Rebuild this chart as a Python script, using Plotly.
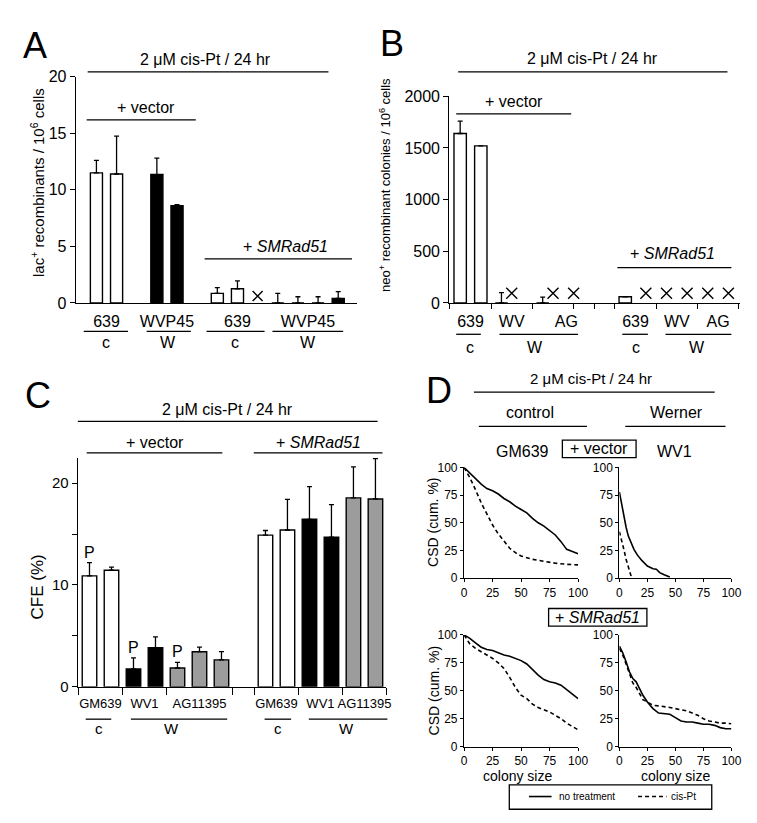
import plotly.graph_objects as go

FONT = "Liberation Sans, Arial, Helvetica, sans-serif"
W, H = 757, 823
FILLS = {"639": "white", "GM639": "white", "WVP45": "black", "WV1": "black",
         "WV": "black", "AG": "#9c9c9c", "AG11395": "#9c9c9c"}

# ---------- A: lac+ recombinants / 10^6 cells (None = not done -> x) ----------
a_slot = [0, 1, 3, 4, 6, 7, 8, 9, 10, 11, 12]
a_cell = ["639", "639", "WVP45", "WVP45", "639", "639", "639", "WVP45", "WVP45", "WVP45", "WVP45"]
a_value = [11.5, 11.4, 11.35, 8.6, 0.85, 1.25, None, 0, 0, 0, 0.4]
a_error = [1.1, 3.35, 1.45, 0.08, 0.5, 0.7, None, 0.85, 0.55, 0.55, 0.6]
a_labels = ["639", "WVP45", "639", "WVP45"]
a_label_pos = [0.5, 3.5, 7, 10.5]

# ---------- B: neo+ recombinant colonies / 10^6 cells ----------
b_slot = [0, 2, 4, 5, 8, 9, 11, 16, 18, 20, 22, 24, 26]
b_cell = ["639", "639", "WV", "WV", "AG", "AG", "AG", "639", "639", "WV", "WV", "AG", "AG"]
b_value = [1640, 1520, 0, None, 0, None, None, 60, None, None, None, None, None]
b_error = [120, 0, 100, None, 57, None, None, 0, None, None, None, None, None]
b_labels = ["639", "WV", "AG", "639", "WV", "AG"]
b_label_pos = [1, 5, 10.3, 17, 21, 25]
b_bounds = [-1, 3, 7, 11, 13, 15, 19, 23, 27]

# ---------- C: CFE (%) ----------
c_slot = [0, 1, 2, 3, 4, 5, 6, 8, 9, 10, 11, 12, 13]
c_cell = ["GM639", "GM639", "WV1", "WV1", "AG11395", "AG11395", "AG11395",
          "GM639", "GM639", "WV1", "WV1", "AG11395", "AG11395"]
c_value = [10.9, 11.45, 1.75, 3.85, 1.85, 3.45, 2.65, 14.9, 15.4, 16.45, 14.7, 18.55, 18.45]
c_error = [1.3, 0.3, 1.1, 1.05, 0.55, 0.45, 0.8, 0.45, 3.0, 3.2, 3.2, 3.05, 3.95]
c_parental = [0, 2, 4]
c_labels = ["GM639", "WV1", "AG11395", "GM639", "WV1", "AG11395"]
c_label_pos = [0.5, 2.5, 5, 8.5, 10.5, 12.5]
c_bounds = [-0.5, 1.5, 3.5, 6.5, 7.5, 9.5, 11.5, 13.5]

# ---------- D: colony size distributions ----------
d_ticks = [0, 25, 50, 75, 100]
d_vec_gm_x = [0, 5, 10, 15, 20, 25, 30, 35, 40, 45, 50, 55, 60, 65, 70, 75, 80, 85, 90, 95, 100]
d_vec_gm_none = [100, 95, 90, 85, 81, 79, 76, 72, 69, 65, 62, 59, 54, 50, 47, 43, 39, 33, 26, 24, 22]
d_vec_gm_cis_x = [0, 5, 10, 15, 20, 25, 30, 35, 40, 45, 50, 60, 70, 80, 90, 100]
d_vec_gm_cis = [100, 91, 80, 68, 58, 48, 40, 33, 27, 23, 20, 17, 15, 13.5, 12.5, 12]
d_vec_wv_x = [0, 2, 4, 6, 8, 10, 13, 16, 20, 25, 30, 33, 36, 40, 45]
d_vec_wv_none = [78, 66, 55, 46, 38, 33, 26, 21, 16, 11, 8.5, 8, 5, 3, 1]
d_vec_wv_cis_x = [0, 2, 4, 6, 8, 10, 11]
d_vec_wv_cis = [42, 35, 26, 17, 10, 3, 0]
d_rad_gm_x = [0, 5, 10, 15, 20, 25, 30, 35, 40, 45, 50, 55, 60, 65, 70, 75, 80, 85, 90, 95, 100]
d_rad_gm_none = [100, 97, 93, 89, 87, 86, 84, 82, 81, 79, 77, 74, 69, 64, 60, 58, 57, 55, 51, 47, 43]
d_rad_gm_cis = [100, 92, 88, 85, 82, 79, 75, 70, 62, 53, 46, 43, 38, 35, 33, 31, 28, 25, 21, 18, 15]
d_rad_wv_x = [0, 3, 6, 9, 12, 15, 18, 21, 25, 30, 35, 40, 45, 50, 55, 60, 65, 70, 75, 80, 85, 90, 95, 100]
d_rad_wv_none = [90, 84, 76, 67, 61, 58, 52, 46, 40, 34, 30, 29.5, 29, 26, 23, 22, 22, 21, 20, 20, 19, 17, 16, 16]
d_rad_wv_cis = [88, 82, 74, 66, 57, 53, 47, 42, 40, 37, 36.5, 36, 35, 34, 33, 32, 30, 28, 25, 23, 22, 21, 21, 20.5]


def xdom(x0, x1):
    return [x0 / W, x1 / W]


def ydom(top, bottom):
    return [1 - bottom / H, 1 - top / H]


def T(x, y, text, size, **kw):
    d = dict(x=x / W, y=1 - y / H, xref="paper", yref="paper", text=text, showarrow=False,
             font=dict(size=size, color="black", family=FONT), xanchor="center", yanchor="middle")
    d.update(kw)
    return d


def L(x0, x1, y, width=1.3, dash="solid"):
    return dict(type="line", xref="paper", yref="paper", x0=x0 / W, x1=x1 / W,
                y0=1 - y / H, y1=1 - y / H, line=dict(color="black", width=width, dash=dash))


def R(x0, y0, x1, y1):
    return dict(type="rect", xref="paper", yref="paper", x0=x0 / W, x1=x1 / W,
                y0=1 - y1 / H, y1=1 - y0 / H, line=dict(color="black", width=1.3))


fig = go.Figure()


def add_bars(slot, cell, value, error, ax, width, nd_y, nd_size):
    idx = [i for i, v in enumerate(value) if v is not None]
    fig.add_trace(go.Bar(
        x=[slot[i] for i in idx], y=[value[i] for i in idx], width=width,
        marker=dict(color=[FILLS[cell[i]] for i in idx], line=dict(color="black", width=1.4)),
        error_y=dict(type="data", symmetric=False, array=[error[i] for i in idx],
                     arrayminus=[0] * len(idx), color="black", thickness=1.3, width=2.5),
        xaxis="x" + ax, yaxis="y" + ax, showlegend=False))
    nd = [i for i, v in enumerate(value) if v is None]
    if nd:
        fig.add_trace(go.Scatter(
            x=[slot[i] for i in nd], y=[nd_y] * len(nd), mode="markers",
            marker=dict(symbol="x-thin", size=nd_size, line=dict(width=1.4, color="black")),
            xaxis="x" + ax, yaxis="y" + ax, showlegend=False))


add_bars(a_slot, a_cell, a_value, a_error, "", 0.6, 20 * 7 / 231, 10)
add_bars(b_slot, b_cell, b_value, b_error, "2", 1.2, 2000 * 10 / 211, 11)
add_bars(c_slot, c_cell, c_value, c_error, "3", 0.66, 0, 1)

for ax, xs, ys, dash in [
    ("4", d_vec_gm_x, d_vec_gm_none, "solid"), ("4", d_vec_gm_cis_x, d_vec_gm_cis, "4px,3px"),
    ("5", d_vec_wv_x, d_vec_wv_none, "solid"), ("5", d_vec_wv_cis_x, d_vec_wv_cis, "4px,3px"),
    ("6", d_rad_gm_x, d_rad_gm_none, "solid"), ("6", d_rad_gm_x, d_rad_gm_cis, "4px,3px"),
    ("7", d_rad_wv_x, d_rad_wv_none, "solid"), ("7", d_rad_wv_x, d_rad_wv_cis, "4px,3px"),
]:
    fig.add_trace(go.Scatter(x=xs, y=ys, mode="lines", line=dict(color="black", width=1.6, dash=dash),
                             xaxis="x" + ax, yaxis="y" + ax, showlegend=False))

base = dict(showline=True, linecolor="black", linewidth=1.3, showgrid=False, zeroline=False,
            ticks="outside", tickcolor="black", tickwidth=1.3, ticklen=5, fixedrange=True)


def xax(dom, rng, anchor, tv, tt, size, bounds=None, blen=5):
    d = dict(base, domain=xdom(*dom), range=rng, anchor=anchor, tickmode="array",
             tickvals=tv, ticktext=tt, tickcolor="rgba(0,0,0,0)", ticklen=4,
             tickfont=dict(size=size, color="black", family=FONT))
    if bounds:
        d["minor"] = dict(tickmode="array", tickvals=bounds, ticks="outside", ticklen=blen,
                          tickcolor="black", tickwidth=1.3)
    return d


def yax(dom, rng, anchor, tv, size, minor=None):
    d = dict(base, domain=ydom(*dom), range=rng, anchor=anchor, tickmode="array",
             tickvals=tv, ticktext=[str(v) for v in tv],
             tickfont=dict(size=size, color="black", family=FONT))
    if minor:
        d["minor"] = dict(tickmode="array", tickvals=minor, ticks="outside", ticklen=5,
                          tickcolor="black", tickwidth=1.3)
    return d


def dax(dom, anchor, horiz):
    d = dict(base, range=[0, 100], anchor=anchor, tickmode="array", tickvals=d_ticks, ticklen=3,
             tickfont=dict(size=12, color="black", family=FONT))
    d["domain"] = xdom(*dom) if horiz else ydom(*dom)
    return d


layout = dict(
    width=W, height=H, margin=dict(l=0, r=0, t=0, b=0),
    paper_bgcolor="white", plot_bgcolor="white", font=dict(family=FONT, color="black"),
    barmode="overlay",
    xaxis=xax((66, 352), [-1.02, 12.93], "y", a_label_pos, a_labels, 16),
    yaxis=yax((62, 293), [0, 20], "x", [0, 5, 10, 15, 20], 16),
    xaxis2=xax((446, 742), [-1.05, 27.15], "y2", b_label_pos, b_labels, 16, b_bounds, 5),
    yaxis2=yax((82, 293), [0, 2000], "x2", [0, 500, 1000, 1500, 2000], 16),
    xaxis3=xax((68, 382), [-0.53, 13.5], "y3", c_label_pos, c_labels, 13, c_bounds, 7),
    yaxis3=yax((451, 685), [0, 22.5], "x3", [0, 10, 20], 15, minor=[5, 15]),
    xaxis4=dax((461, 577), "y4", True), yaxis4=dax((461, 574), "x4", False),
    xaxis5=dax((619, 733), "y5", True), yaxis5=dax((461, 574), "x5", False),
    xaxis6=dax((461, 577), "y6", True), yaxis6=dax((632, 746), "x6", False),
    xaxis7=dax((619, 733), "y7", True), yaxis7=dax((632, 746), "x7", False),
)

TITLE = "2 \u03bcM cis-Pt / 24 hr"
SM = "+ <i>SMRad51</i>"
ann = [
    # A
    T(24, 30, "A", 36), T(198, 44, TITLE, 16), T(137, 93, "+ vector", 16), T(279, 235, SM, 16),
    T(27, 170, "lac<sup>+</sup> recombinants / 10<sup>6</sup> cells", 15, textangle=-90),
    T(97, 333, "c", 16), T(160, 333, "W", 16), T(228, 333, "c", 16), T(302, 333, "W", 16),
    # B
    T(388, 28, "B", 36), T(592, 43, TITLE, 16), T(512, 87, "+ vector", 16), T(673, 242, SM, 16),
    T(381, 172, "neo<sup>+</sup> recombinant colonies / 10<sup>6</sup> cells", 13, textangle=-90),
    T(467, 338, "c", 16), T(533, 338, "W", 16), T(636, 338, "c", 16), T(698, 338, "W", 16),
    # C
    T(27, 388, "C", 36), T(220, 402, TITLE, 16), T(147, 435, "+ vector", 16), T(313, 435, SM, 16),
    T(27, 583, "CFE (%)", 17, textangle=-90),
    T(90, 728, "c", 15), T(163, 728, "W", 15), T(272, 728, "c", 15), T(341, 728, "W", 15),
    # D
    T(435, 382, "D", 36), T(590, 370, TITLE, 15), T(528, 405, "control", 16), T(677, 405, "Werner", 16),
    T(520, 445, "GM639", 16), T(598, 442, "+ vector", 16), T(675, 445, "WV1", 16),
    T(597, 614, SM, 16),
    T(430, 517, "CSD (cum. %)", 14, textangle=-90), T(430, 689, "CSD (cum. %)", 14, textangle=-90),
    T(515, 776, "colony size", 14), T(676, 776, "colony size", 14),
    T(556, 797, "no treatment", 10, xanchor="left"), T(670, 797, "cis-Pt", 10, xanchor="left"),
]
for i in c_parental:
    ann.append(dict(x=c_slot[i], y=c_value[i] + c_error[i], xref="x3", yref="y3", text="P",
                    showarrow=False, yanchor="bottom", font=dict(size=16, color="black", family=FONT)))

shapes = [
    L(78, 323, 57), L(77, 188, 106), L(197, 347, 248),
    L(74, 119, 322), L(138, 183, 322), L(199, 258, 322), L(266, 338, 322),
    L(455, 729, 57), L(453, 570, 100), L(617, 733, 257),
    L(453, 478, 325), L(497, 577, 325), L(622, 648, 325), L(666, 733, 325),
    L(68, 373, 414), L(77, 215, 446), L(247, 378, 446),
    L(76, 102, 718), L(122, 220, 718), L(258, 285, 718), L(303, 383, 718),
    L(471, 716, 384), L(476, 586, 419), L(625, 727, 419),
    R(561, 433, 636, 451), R(547, 605, 647, 623),
    R(507, 785, 713, 810), L(527, 550, 797, 1.6), L(638, 667, 797, 1.6, "4px,3px"),
]

fig.update_layout(**layout, annotations=ann, shapes=shapes)
fig.write_html("out.html")
